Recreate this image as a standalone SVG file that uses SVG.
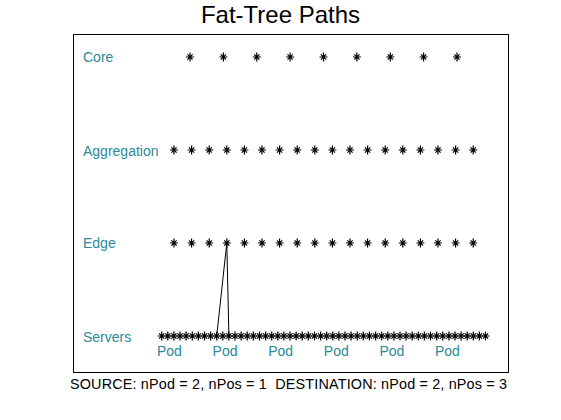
<svg xmlns="http://www.w3.org/2000/svg" xmlns:xlink="http://www.w3.org/1999/xlink" width="561" height="420" viewBox="0 0 561 420">
<style>
.lbl{font-family:"Liberation Sans",Arial,sans-serif;font-size:14px;fill:#2a8a99}
.title{font-family:"Liberation Sans",Arial,sans-serif;font-size:24px;fill:#000}
.foot{font-family:"Liberation Sans",Arial,sans-serif;font-size:14.4px;fill:#000;white-space:pre}
.frame{fill:none;stroke:#000;stroke-width:1}
.path{fill:none;stroke:#000;stroke-width:1}
</style>
<defs>
<path id="star" d="M-4,0H4M0,-4.5V4.5M-2.6,-2.6L2.6,2.6M-2.6,2.6L2.6,-2.6" fill="none" stroke="#000" stroke-width="1.2"/>
</defs>
<rect width="561" height="420" fill="#fff"/>
<text class="title" x="280.5" y="23" text-anchor="middle">Fat-Tree Paths</text>
<rect class="frame" x="73.5" y="34.5" width="435" height="338"/>
<g id="labels">
<text class="lbl" x="83" y="62">Core</text>
<text class="lbl" x="83" y="156">Aggregation</text>
<text class="lbl" x="83" y="248">Edge</text>
<text class="lbl" x="83" y="342">Servers</text>
<text class="lbl" x="157" y="356">Pod</text>
<text class="lbl" x="212.6" y="356">Pod</text>
<text class="lbl" x="268.2" y="356">Pod</text>
<text class="lbl" x="323.8" y="356">Pod</text>
<text class="lbl" x="379.4" y="356">Pod</text>
<text class="lbl" x="435" y="356">Pod</text>
</g>
<g id="connectors">
<path class="path" d="M216.7,336L226.8,243L228.9,336"/>
</g>
<g id="core">
<use href="#star" x="190" y="57"/><use href="#star" x="223.4" y="57"/><use href="#star" x="256.8" y="57"/><use href="#star" x="290.1" y="57"/><use href="#star" x="323.5" y="57"/><use href="#star" x="356.9" y="57"/><use href="#star" x="390.3" y="57"/><use href="#star" x="423.6" y="57"/><use href="#star" x="457" y="57"/>
</g>
<g id="aggregation">
<use href="#star" x="174" y="150"/><use href="#star" x="191.6" y="150"/><use href="#star" x="209.2" y="150"/><use href="#star" x="226.8" y="150"/><use href="#star" x="244.4" y="150"/><use href="#star" x="262" y="150"/><use href="#star" x="279.6" y="150"/><use href="#star" x="297.2" y="150"/><use href="#star" x="314.8" y="150"/><use href="#star" x="332.4" y="150"/><use href="#star" x="350" y="150"/><use href="#star" x="367.6" y="150"/><use href="#star" x="385.2" y="150"/><use href="#star" x="402.8" y="150"/><use href="#star" x="420.4" y="150"/><use href="#star" x="438" y="150"/><use href="#star" x="455.6" y="150"/><use href="#star" x="473.2" y="150"/>
</g>
<g id="edge">
<use href="#star" x="174" y="243"/><use href="#star" x="191.6" y="243"/><use href="#star" x="209.2" y="243"/><use href="#star" x="226.8" y="243"/><use href="#star" x="244.4" y="243"/><use href="#star" x="262" y="243"/><use href="#star" x="279.6" y="243"/><use href="#star" x="297.2" y="243"/><use href="#star" x="314.8" y="243"/><use href="#star" x="332.4" y="243"/><use href="#star" x="350" y="243"/><use href="#star" x="367.6" y="243"/><use href="#star" x="385.2" y="243"/><use href="#star" x="402.8" y="243"/><use href="#star" x="420.4" y="243"/><use href="#star" x="438" y="243"/><use href="#star" x="455.6" y="243"/><use href="#star" x="473.2" y="243"/>
</g>
<g id="servers">
<use href="#star" x="161.7" y="336"/><use href="#star" x="167.8" y="336"/><use href="#star" x="173.9" y="336"/><use href="#star" x="180" y="336"/><use href="#star" x="186.1" y="336"/><use href="#star" x="192.3" y="336"/><use href="#star" x="198.4" y="336"/><use href="#star" x="204.5" y="336"/><use href="#star" x="210.6" y="336"/><use href="#star" x="216.7" y="336"/><use href="#star" x="222.8" y="336"/><use href="#star" x="228.9" y="336"/><use href="#star" x="235" y="336"/><use href="#star" x="241.1" y="336"/><use href="#star" x="247.2" y="336"/><use href="#star" x="253.4" y="336"/><use href="#star" x="259.5" y="336"/><use href="#star" x="265.6" y="336"/><use href="#star" x="271.7" y="336"/><use href="#star" x="277.8" y="336"/><use href="#star" x="283.9" y="336"/><use href="#star" x="290" y="336"/><use href="#star" x="296.1" y="336"/><use href="#star" x="302.2" y="336"/><use href="#star" x="308.3" y="336"/><use href="#star" x="314.5" y="336"/><use href="#star" x="320.6" y="336"/><use href="#star" x="326.7" y="336"/><use href="#star" x="332.8" y="336"/><use href="#star" x="338.9" y="336"/><use href="#star" x="345" y="336"/><use href="#star" x="351.1" y="336"/><use href="#star" x="357.2" y="336"/><use href="#star" x="363.3" y="336"/><use href="#star" x="369.4" y="336"/><use href="#star" x="375.6" y="336"/><use href="#star" x="381.7" y="336"/><use href="#star" x="387.8" y="336"/><use href="#star" x="393.9" y="336"/><use href="#star" x="400" y="336"/><use href="#star" x="406.1" y="336"/><use href="#star" x="412.2" y="336"/><use href="#star" x="418.3" y="336"/><use href="#star" x="424.4" y="336"/><use href="#star" x="430.5" y="336"/><use href="#star" x="436.7" y="336"/><use href="#star" x="442.8" y="336"/><use href="#star" x="448.9" y="336"/><use href="#star" x="455" y="336"/><use href="#star" x="461.1" y="336"/><use href="#star" x="467.2" y="336"/><use href="#star" x="473.3" y="336"/><use href="#star" x="479.4" y="336"/><use href="#star" x="485.5" y="336"/>
</g>
<text class="foot" x="288.5" y="389" text-anchor="middle" xml:space="preserve" textLength="437" lengthAdjust="spacing">SOURCE: nPod = 2, nPos = 1  DESTINATION: nPod = 2, nPos = 3</text>
</svg>
